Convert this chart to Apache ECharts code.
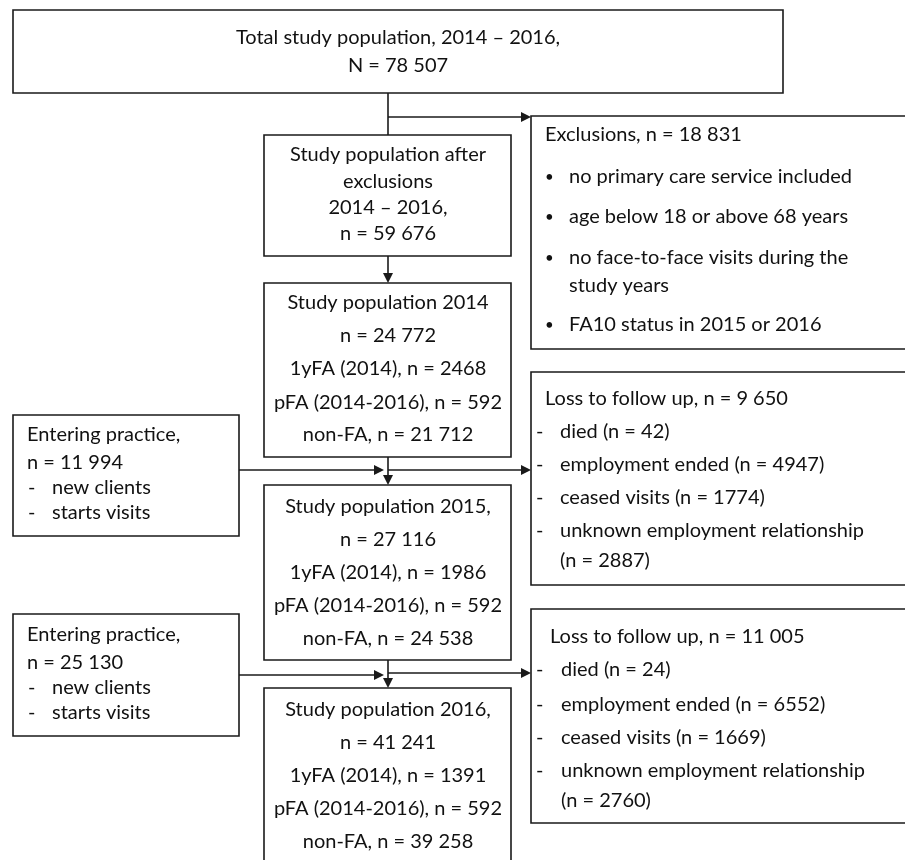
<!DOCTYPE html>
<html><head><meta charset="utf-8">
<script src="https://cdn.jsdelivr.net/npm/echarts@6/dist/echarts.min.js"></script>
<style>html,body{margin:0;padding:0;background:#fff}#c{width:905px;height:860px}</style>
</head><body><div id="c"></div>
<script>
// ---- chart content (text / values) ----
const totalLines = ['Total study population, 2014 \u2013 2016,', 'N = 78 507'];
const afterExclLines = ['Study population after', 'exclusions', '2014 \u2013 2016,', 'n = 59 676'];
const exclTitle = 'Exclusions, n = 18 831';
const exclItems = ['no primary care service included', 'age below 18 or above 68 years', 'no face-to-face visits during the\nstudy years', 'FA10 status in 2015 or 2016'];
const pop2014Lines = ['Study population 2014', 'n = 24 772', '1yFA (2014), n = 2468', 'pFA (2014-2016), n = 592', 'non-FA, n = 21 712'];
const pop2015Lines = ['Study population 2015,', 'n = 27 116', '1yFA (2014), n = 1986', 'pFA (2014-2016), n = 592', 'non-FA, n = 24 538'];
const pop2016Lines = ['Study population 2016,', 'n = 41 241', '1yFA (2014), n = 1391', 'pFA (2014-2016), n = 592', 'non-FA, n = 39 258'];
const enter2015Lines = ['Entering practice,', 'n = 11 994'];
const enter2016Lines = ['Entering practice,', 'n = 25 130'];
const enterItems = ['new clients', 'starts visits'];
const loss2015Title = 'Loss to follow up, n = 9 650';
const loss2015Items = ['died (n = 42)', 'employment ended (n = 4947)', 'ceased visits (n = 1774)', 'unknown employment relationship\n(n = 2887)'];
const loss2016Title = 'Loss to follow up, n = 11 005';
const loss2016Items = ['died (n = 24)', 'employment ended (n = 6552)', 'ceased visits (n = 1669)', 'unknown employment relationship\n(n = 2760)'];

// ---- layout (positions / styles) ----
const FONT_FAMILY = 'Lato, "Open Sans", sans-serif';
const FS = 20;
const INK = '#111';
const LINE = '#1a1a1a';

function centered(lines, cx, ys) {
  return lines.map((t, i) => ({ text: t, x: cx, y: ys[i], align: 'center' }));
}
function listRows(titleLines, titleX, titleYs, items, marker, markerX, textX, itemYs, wrapGap, markerSize) {
  const rows = titleLines.map((t, i) => ({ text: t, x: titleX, y: titleYs[i], align: 'left' }));
  items.forEach((it, i) => {
    rows.push({ text: marker, x: markerX, y: itemYs[i], align: 'left', size: markerSize });
    it.split('\n').forEach((part, j) => rows.push({ text: part, x: textX, y: itemYs[i] + j * wrapGap, align: 'left' }));
  });
  return rows;
}

const boxes = [
  { x: 13, y: 10, w: 770, h: 83, rows: centered(totalLines, 398, [38, 66]) },
  { x: 264, y: 135, w: 247, h: 121, rows: centered(afterExclLines, 388, [155, 182, 208, 234]) },
  { x: 264, y: 283, w: 247, h: 174, rows: centered(pop2014Lines, 388, [303, 336, 369, 403, 435]) },
  { x: 264, y: 485, w: 247, h: 175, rows: centered(pop2015Lines, 388, [507, 540, 573, 606, 639]) },
  { x: 264, y: 688, w: 247, h: 200, rows: centered(pop2016Lines, 388, [710, 743, 776, 809, 842]) },
  { x: 531, y: 116, w: 390, h: 233, rows: listRows([exclTitle], 545, [135], exclItems, '\u2022', 545, 569, [177, 217, 258, 325], 28, 15) },
  { x: 13, y: 415, w: 226, h: 121, rows: listRows(enter2015Lines, 27, [435, 463], enterItems, '-', 28, 52, [488, 513], 0) },
  { x: 13, y: 614, w: 226, h: 122, rows: listRows(enter2016Lines, 27, [635, 663], enterItems, '-', 28, 52, [688, 713], 0) },
  { x: 531, y: 372, w: 390, h: 213, rows: listRows([loss2015Title], 545, [399], loss2015Items, '-', 536, 560, [432, 465, 498, 531], 30) },
  { x: 531, y: 609, w: 390, h: 214, rows: listRows([loss2016Title], 550, [637], loss2016Items, '-', 536, 561, [670, 705, 738, 771], 30) }
];

// connectors: polyline points, and whether last segment ends with an arrowhead
const arrows = [
  { pts: [[388, 93], [388, 135]], head: false },
  { pts: [[388, 117], [531, 117]], head: true },
  { pts: [[388, 256], [388, 283]], head: true },
  { pts: [[388, 457], [388, 485]], head: true },
  { pts: [[239, 470], [384, 470]], head: true },
  { pts: [[388, 470], [531, 470]], head: true },
  { pts: [[388, 660], [388, 688]], head: true },
  { pts: [[239, 675], [384, 675]], head: true },
  { pts: [[388, 673], [531, 673]], head: true }
];

const chart = echarts.init(document.getElementById('c'), null, { renderer: 'canvas' });

function renderBox(params, api) {
  const b = boxes[params.dataIndex];
  const p0 = api.coord([b.x, b.y]);
  const p1 = api.coord([b.x + b.w, b.y + b.h]);
  const children = [{
    type: 'rect',
    shape: { x: p0[0], y: p0[1], width: p1[0] - p0[0], height: p1[1] - p0[1] },
    style: { fill: '#fff', stroke: LINE, lineWidth: 1.6 }
  }];
  b.rows.forEach(r => {
    const p = api.coord([r.x, r.y]);
    children.push({
      type: 'text',
      x: p[0], y: p[1],
      style: {
        text: r.text, fill: INK,
        font: (r.size || FS) + 'px ' + FONT_FAMILY,
        align: r.align, textAlign: r.align,
        verticalAlign: 'middle', textVerticalAlign: 'middle'
      }
    });
  });
  return { type: 'group', children };
}

function renderArrow(params, api) {
  const a = arrows[params.dataIndex];
  const pts = a.pts.map(p => api.coord(p));
  const children = [];
  const n = pts.length;
  let end = pts[n - 1].slice();
  const prev = pts[n - 2];
  const dx = end[0] - prev[0], dy = end[1] - prev[1];
  const len = Math.hypot(dx, dy), ux = dx / len, uy = dy / len;
  const HL = 10, HW = 5;
  const linePts = pts.map(p => p.slice());
  if (a.head) {
    linePts[n - 1] = [end[0] - ux * HL * 0.6, end[1] - uy * HL * 0.6];
    const bx = end[0] - ux * HL, by = end[1] - uy * HL;
    children.push({
      type: 'polygon',
      shape: { points: [end, [bx - uy * HW, by + ux * HW], [bx + uy * HW, by - ux * HW]] },
      style: { fill: LINE }
    });
  }
  children.unshift({ type: 'polyline', shape: { points: linePts }, style: { stroke: LINE, lineWidth: 1.6, fill: null } });
  return { type: 'group', children };
}

chart.setOption({
  animation: false,
  backgroundColor: '#fff',
  grid: { left: 0, right: 0, top: 0, bottom: 0 },
  xAxis: { type: 'value', min: 0, max: 905, show: false },
  yAxis: { type: 'value', min: 0, max: 860, inverse: true, show: false },
  series: [
    { type: 'custom', clip: false, silent: true, renderItem: renderArrow, data: arrows.map((a, i) => [i]), z: 1 },
    { type: 'custom', clip: false, silent: true, renderItem: renderBox, data: boxes.map((b, i) => [i]), z: 2 }
  ]
});
</script>
</body></html>
